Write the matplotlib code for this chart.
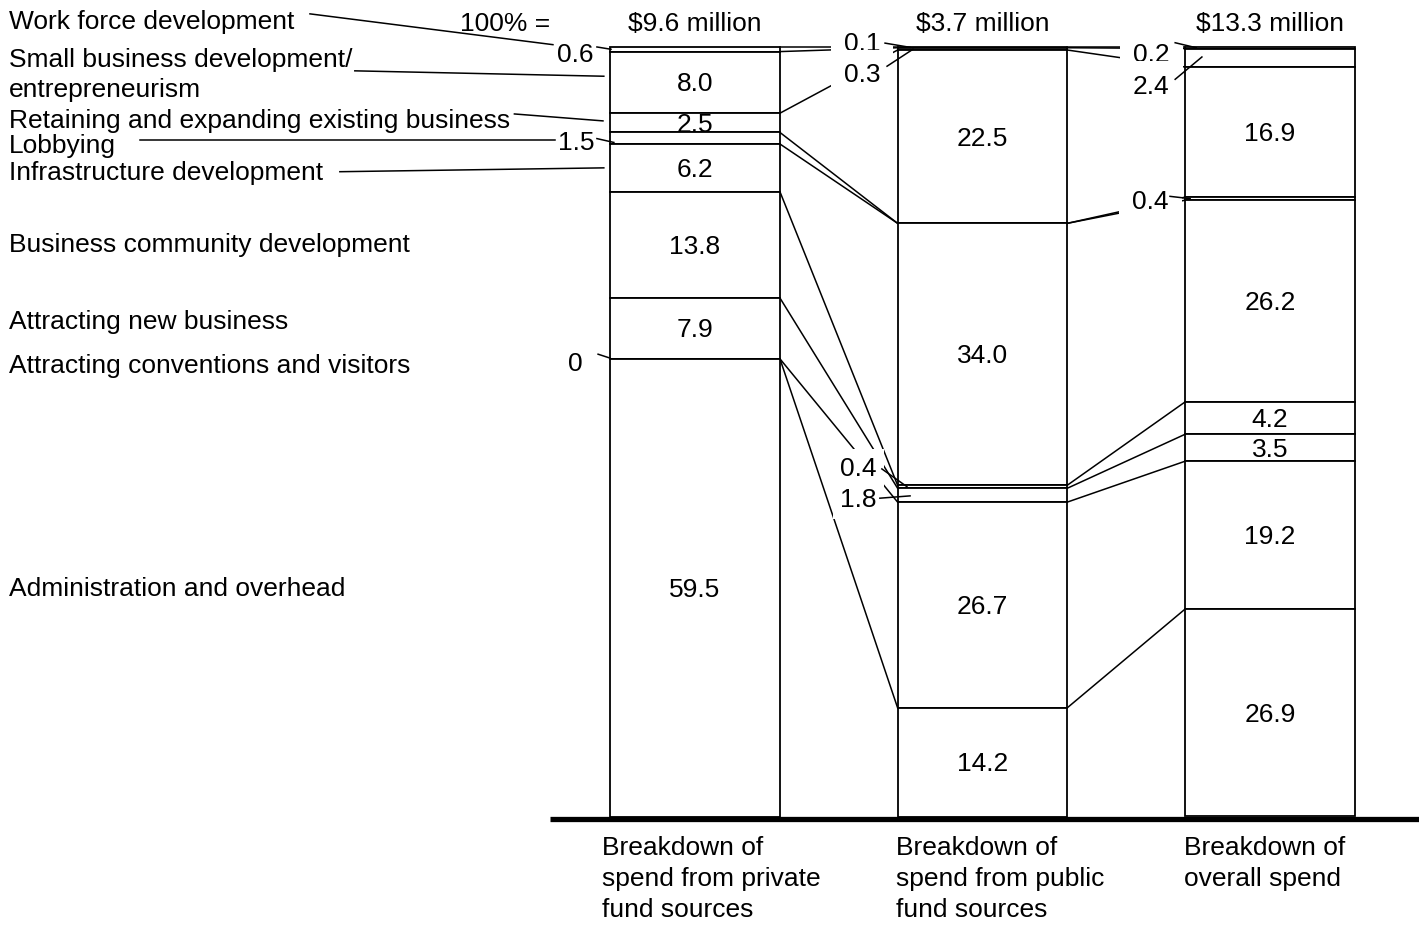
import numpy as np
import matplotlib.pyplot as plt

plt.rcParams['font.family'] = ['Liberation Sans', 'DejaVu Sans']

# Spend categories, listed from the top of each stack down
categories = ['Work force development',
              'Small business development/\nentrepreneurism',
              'Retaining and expanding existing business',
              'Lobbying',
              'Infrastructure development',
              'Business community development',
              'Attracting new business',
              'Attracting conventions and visitors',
              'Administration and overhead']

private_share = [0.6, 8.0, 2.5, 1.5, 6.2, 13.8, 7.9, 0, 59.5]
public_share = [0.1, 0.3, 22.5, 0, 34.0, 0.4, 1.8, 26.7, 14.2]
overall_share = [0.2, 2.4, 16.9, 0.4, 26.2, 4.2, 3.5, 19.2, 26.9]

totals = ['$9.6 million', '$3.7 million', '$13.3 million']
column_labels = ['Breakdown of\nspend from private\nfund sources',
                 'Breakdown of\nspend from public\nfund sources',
                 'Breakdown of\noverall spend']

FS = 19
LW = 1.3
W = 0.591
DY = -0.25  # small downward nudge for text centres

columns = [private_share, public_share, overall_share]
xpos = np.arange(len(columns))

fig = plt.figure(figsize=(14.19, 9.27), dpi=100)
ax = fig.add_axes([0, 0, 1, 1])
ax.set_xlim(-2.417, 2.518)
ax.set_ylim(-14.29, 106.1)
ax.axis('off')

# segment edges, top of stack at 100 going down
edges = []
for vals in columns:
    tops = 100 - np.concatenate([[0], np.cumsum(vals)])
    edges.append(tops)

# stacked bars
for j, vals in enumerate(columns):
    tops = edges[j]
    for i, v in enumerate(vals):
        ax.bar(xpos[j], v, W, bottom=tops[i + 1], color='white',
               edgecolor='black', linewidth=LW, zorder=3)
        if v >= 2.5:
            ax.text(xpos[j], tops[i + 1] + v / 2 + DY, f'{v:.1f}', ha='center',
                    va='center', fontsize=FS, zorder=5)

# connectors between matching boundaries of neighbouring stacks
for j in range(len(columns) - 1):
    for k in range(len(edges[j]) - 1):
        ax.plot([xpos[j] + W / 2, xpos[j + 1] - W / 2],
                [edges[j][k], edges[j + 1][k]], color='black', lw=1.1, zorder=1)

# small segments labelled outside: (column, category) -> text pos, leader start, leader end, pad
outside = {
    (0, 0): ((-0.417, 99.2), (-0.341, 100.0), (-0.292, 99.7), None),
    (0, 3): ((-0.414, 87.8), (-0.341, 88.1), (-0.282, 87.6), None),
    (0, 7): ((-0.417, 59.1), (-0.337, 60.1), (-0.296, 59.6), None),
    (1, 0): ((0.581, 100.6), (0.661, 100.5), (0.748, 99.95), 0.5),
    (1, 1): ((0.581, 96.6), (0.668, 97.5), (0.758, 99.7), 0.5),
    (1, 5): ((0.567, 45.45), (0.650, 45.2), (0.737, 42.9), 0.3),
    (1, 6): ((0.567, 41.4), (0.643, 41.4), (0.748, 41.7), 0.25),
    (2, 0): ((1.586, 99.2), (1.670, 100.55), (1.743, 99.9), 0.5),
    (2, 1): ((1.586, 95.1), (1.670, 95.8), (1.763, 98.7), 0.5),
    (2, 3): ((1.583, 80.1), (1.652, 80.6), (1.722, 80.3), 0.5),
}
for (j, i), (tpos, a, b, pad) in outside.items():
    v = columns[j][i]
    txt = '0' if v == 0 else f'{v:.1f}'
    box = None
    if pad is not None:
        box = dict(boxstyle=f'square,pad={pad}', fc='white', ec='none')
    ax.text(tpos[0], tpos[1] + DY, txt, ha='center', va='center', fontsize=FS,
            bbox=box, zorder=2)
    ax.plot([a[0], b[0]], [a[1], b[1]], color='black', lw=1.1, zorder=4)

# category names on the left
name_y = [103.5, 96.6, 90.6, 87.4, 83.9, 74.5, 64.5, 58.8, 29.9]
for name, y in zip(categories, name_y):
    ax.text(-2.386, y + DY, name, ha='left', va='center', fontsize=FS,
            linespacing=1.36)

# leaders from the names to the first stack
name_leaders = [((-1.339, 104.3), (-0.494, 100.3)),
                ((-1.183, 96.9), (-0.317, 96.2)),
                ((-0.628, 91.3), (-0.320, 90.4)),
                ((-1.930, 87.9), (-0.487, 87.9)),
                ((-1.235, 83.8), (-0.317, 84.3))]
for a, b in name_leaders:
    ax.plot([a[0], b[0]], [a[1], b[1]], color='black', lw=1.1, zorder=4)

# totals row
ax.text(-0.661, 103.2 + DY, '100% =', ha='center', va='center', fontsize=FS)
for x, t in zip(xpos, totals):
    ax.text(x, 103.2 + DY, t, ha='center', va='center', fontsize=FS)

# baseline and column captions
ax.plot([-0.504, 2.6], [-0.25, -0.25], color='black', lw=3.8,
        solid_capstyle='butt', zorder=6)
caption_dx = [-0.323, -0.30, -0.30]
for x, dx, lab in zip(xpos, caption_dx, column_labels):
    ax.text(x + dx, -2.5, lab, ha='left', va='top', fontsize=FS,
            linespacing=1.36)

fig.savefig('out.png', dpi=100)
